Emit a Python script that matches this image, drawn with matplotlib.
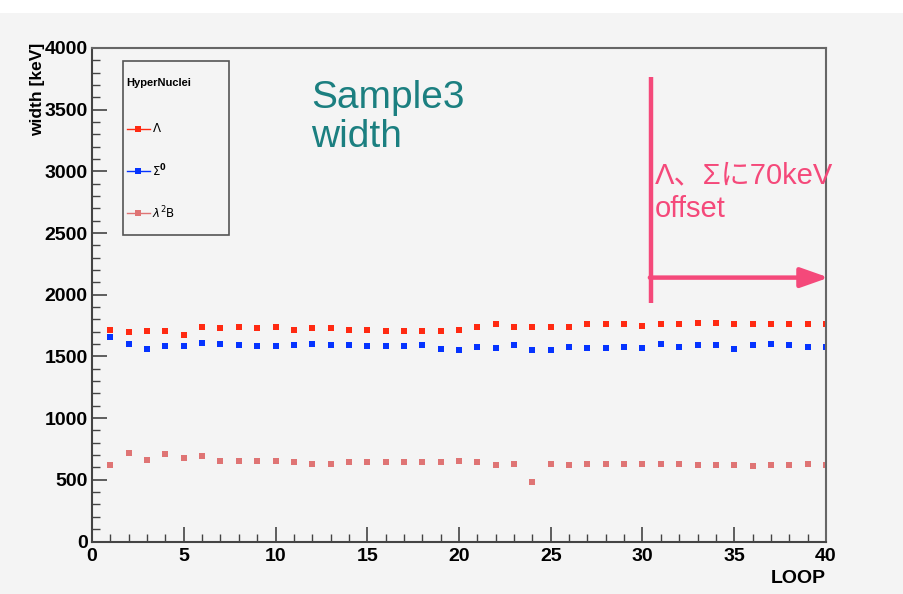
import matplotlib
matplotlib.use("Agg")
import matplotlib.pyplot as plt
from matplotlib.ticker import MultipleLocator
from matplotlib.patches import Rectangle
from matplotlib.lines import Line2D

loop = list(range(1, 41))
lam = [1717, 1695, 1706, 1706, 1676, 1738, 1728, 1738, 1728, 1738,
       1717, 1728, 1728, 1717, 1717, 1706, 1706, 1706, 1706, 1717,
       1738, 1760, 1738, 1738, 1738, 1738, 1760, 1760, 1760, 1749,
       1760, 1760, 1771, 1771, 1760, 1760, 1760, 1760, 1760, 1760]
sig = [1654, 1603, 1560, 1581, 1581, 1611, 1603, 1592, 1581, 1581,
       1592, 1603, 1592, 1592, 1581, 1581, 1581, 1592, 1560, 1549,
       1579, 1568, 1590, 1549, 1549, 1579, 1568, 1568, 1579, 1568,
       1600, 1579, 1590, 1590, 1560, 1590, 1600, 1590, 1579, 1579]
hyp = [624, 718, 664, 708, 675, 697, 653, 653, 653, 653,
       643, 632, 632, 643, 643, 643, 643, 643, 643, 653,
       643, 621, 632, 486, 632, 621, 632, 632, 632, 632,
       632, 632, 621, 621, 621, 610, 621, 621, 632, 621]
labels = [r"$\Lambda$", r"$\Sigma^{\mathbf{0}}$", r"$\lambda^{2}$B"]
colors = ["#ff2a12", "#0533ff", "#df7474"]

W, H = 904, 594
bg = "#f4f4f4"
fig = plt.figure(figsize=(W / 100, H / 100), dpi=100, facecolor="white")
fig.patches.append(Rectangle((0, 0), 1, 1 - 13 / H, transform=fig.transFigure,
                             facecolor=bg, edgecolor="none", zorder=-10))
ax = fig.add_axes([92 / W, 1 - 541.5 / H, (826 - 92) / W, (541.5 - 48) / H])
ax.set_facecolor(bg)

for ys, lab, c in zip([lam, sig, hyp], labels, colors):
    ax.plot(loop, ys, linestyle="none", marker="s", markersize=4.3,
            color=c, markeredgewidth=0, label=lab)

ax.set_xlim(0, 40)
ax.set_ylim(0, 4000)
ax.xaxis.set_major_locator(MultipleLocator(5))
ax.xaxis.set_minor_locator(MultipleLocator(1))
ax.yaxis.set_major_locator(MultipleLocator(500))
ax.yaxis.set_minor_locator(MultipleLocator(100))
ax.tick_params(which="both", direction="in", top=False, right=False, color="#444444")
ax.tick_params(which="major", length=11, width=1.2)
ax.tick_params(which="minor", length=5.5, width=1.0)
for lbl in ax.get_xticklabels() + ax.get_yticklabels():
    lbl.set_fontfamily("Liberation Sans")
    lbl.set_fontweight("bold")
    lbl.set_fontsize(14)
ax.tick_params(axis="x", pad=5)
ax.tick_params(axis="y", pad=3)
for s in ax.spines.values():
    s.set_color("#666666")
    s.set_linewidth(1.5)
ax.spines["left"].set_color("#444444")
ax.spines["bottom"].set_color("#444444")

ax.set_xlabel("LOOP", fontfamily="Liberation Sans", fontweight="bold", fontsize=14)
ax.xaxis.set_label_coords(1.0, -0.058)
ax.xaxis.label.set_horizontalalignment("right")
ax.set_ylabel("width [keV]", fontfamily="Liberation Sans", fontweight="bold", fontsize=12.5)
ax.yaxis.set_label_coords(-0.064, 1.01)
ax.yaxis.label.set_horizontalalignment("right")

# legend box (ROOT TLegend style), drawn in figure pixel coordinates
def fx(px):
    return px / W

def fy(py):
    return 1 - py / H

fig.patches.append(Rectangle((fx(123), fy(235)), fx(229) - fx(123), fy(61) - fy(235),
                             transform=fig.transFigure, facecolor=bg,
                             edgecolor="#555555", linewidth=1.2, zorder=5))
fig.text(fx(126), fy(83), "HyperNuclei", fontfamily="Liberation Sans", fontweight="bold",
         fontsize=8, va="center", ha="left", zorder=6)
for i, (lab, c) in enumerate(zip(labels, colors)):
    yy = 129 + 42 * i
    fig.lines.append(Line2D([fx(127), fx(150)], [fy(yy), fy(yy)], transform=fig.transFigure,
                            color=c, linewidth=1.0, zorder=6))
    fig.lines.append(Line2D([fx(138.5)], [fy(yy)], transform=fig.transFigure,
                            color=c, marker="s", markersize=4, markeredgewidth=0,
                            linestyle="none", zorder=7))
    fig.text(fx(152), fy(yy), lab, fontsize=8.5, va="center", ha="left", zorder=6)

fig.text(fx(311), fy(80), "Sample3\nwidth", color="#1b7f80", fontsize=28,
         fontfamily="Liberation Sans", va="top", ha="left", linespacing=1.12)

pink = "#f4497a"
ax.plot([30.46, 30.46], [1936, 3762], color=pink, linewidth=3.2, solid_capstyle="butt", clip_on=False)
ax.annotate("", xy=(40.15, 2139), xytext=(30.4, 2139),
            arrowprops=dict(arrowstyle="-|>,head_length=1.7,head_width=0.6",
                            color=pink, linewidth=3.2, shrinkA=0, shrinkB=0),
            annotation_clip=False)
fig.text(fx(655), fy(161), "Λ、Σに70keV\noffset", color=pink, fontsize=21,
         family=["Liberation Sans", "Noto Sans CJK JP"], va="top", ha="left", linespacing=1.28)

fig.savefig("out.png", dpi=100, facecolor=fig.get_facecolor())
